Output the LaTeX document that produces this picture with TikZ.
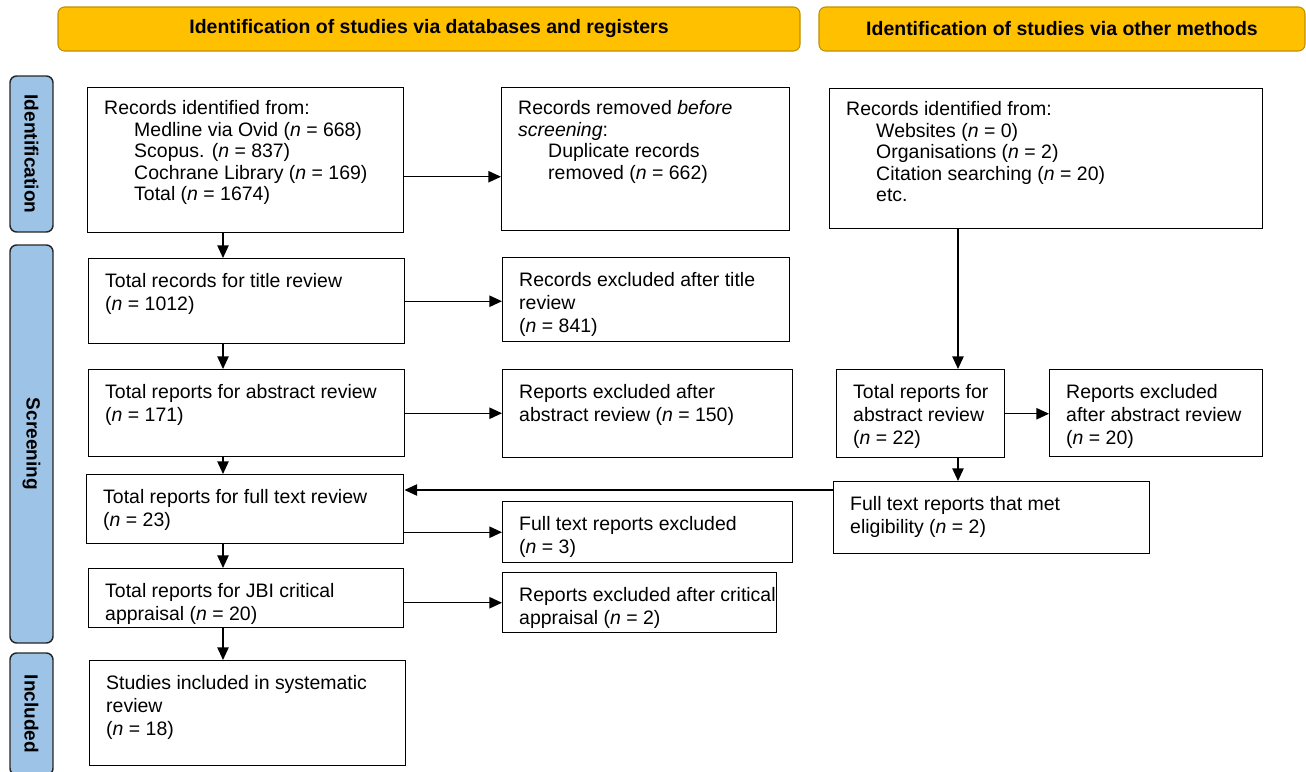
\documentclass[tikz,border=0pt]{standalone}
\usepackage{fontspec}
\setmainfont{Liberation Sans}
\usepackage{xcolor}
\definecolor{prhead}{HTML}{FFC000}
\definecolor{prheadline}{HTML}{BF9000}
\definecolor{prside}{HTML}{9DC3E6}
\usetikzlibrary{arrows.meta,calc}
\newlength\pxu
\setlength\pxu{0.75pt}
\newcommand{\ind}{\hspace*{30\pxu}}
\newcommand{\pbtext}[3]{\parbox[t][#2\pxu][t]{#1\pxu}{\vspace*{12\pxu}\hspace*{16.5\pxu}\begin{tabular}[t]{@{}l@{}}#3\end{tabular}}}

\begin{document}
\begin{tikzpicture}[x=0.75pt,y=-0.75pt,
  pbox/.style={draw,line width=1.1pt,inner sep=0pt,anchor=north west,font=\fontsize{14.6pt}{17.5pt}\selectfont},
  plist/.style={font=\fontsize{14.6pt}{16.1pt}\selectfont},
  header/.style={draw=prheadline,fill=prhead,rounded corners=5pt,line width=0.8pt,minimum height=44\pxu,font=\bfseries\fontsize{14.6pt}{16pt}\selectfont},
  sidebar/.style={draw=black!85,fill=prside,rounded corners=5pt,line width=1.1pt,minimum height=43\pxu,rotate=-90,font=\bfseries\fontsize{14.3pt}{16pt}\selectfont},
  arr/.style={line width=1.1pt,-{Triangle[length=9.5pt,width=8.5pt]}}]
\useasboundingbox (0,0) rectangle (1306,771);

% headers
\node[header,minimum width=742\pxu] (hdDb) at (429,29) {Identification of studies via databases and registers};
\node[header,minimum width=486\pxu] (hdOther) at (1062,29) {Identification of studies via other methods};

% phase bars
\node[sidebar,minimum width=156\pxu] (sideId) at (31.5,154) {Identification};
\node[sidebar,minimum width=398\pxu] (sideScr) at (31.5,444) {Screening};
\node[sidebar,minimum width=122\pxu] (sideInc) at (31.5,714) {Included};

% databases and registers
\node[pbox,plist] (recDb) at (87,87) {\pbtext{316}{145}{Records identified from:\\
  \ind Medline via Ovid (\textit{n} = 668)\\
  \ind Scopus. (\textit{n} = 837)\\
  \ind Cochrane Library (\textit{n} = 169)\\
  \ind Total (\textit{n} = 1674)}};
\node[pbox,plist] (recRemoved) at (501,87) {\pbtext{288}{143}{Records removed \textit{before}\\
  \textit{screening}:\\
  \ind Duplicate records\\
  \ind removed (\textit{n} = 662)}};
\node[pbox] (titleRev) at (88,258) {\pbtext{316}{85}{Total records for title review\\ (\textit{n} = 1012)}};
\node[pbox] (titleExcl) at (502,257) {\pbtext{287}{84}{Records excluded after title\\ review\\ (\textit{n} = 841)}};
\node[pbox] (absRev) at (88,369) {\pbtext{316}{87}{Total reports for abstract review\\ (\textit{n} = 171)}};
\node[pbox] (absExcl) at (502,369) {\pbtext{290}{88}{Reports excluded after\\ abstract review (\textit{n} = 150)}};
\node[pbox] (fullRev) at (86,474) {\pbtext{317}{69}{Total reports for full text review\\ (\textit{n} = 23)}};
\node[pbox] (fullExcl) at (502,501) {\pbtext{290}{61}{Full text reports excluded\\ (\textit{n} = 3)}};
\node[pbox] (jbiRev) at (88,568) {\pbtext{315}{59}{Total reports for JBI critical\\ appraisal (\textit{n} = 20)}};
\node[pbox] (jbiExcl) at (502,572) {\pbtext{274}{60}{Reports excluded after critical\\ appraisal (\textit{n} = 2)}};
\node[pbox] (included) at (89,660) {\pbtext{316}{105}{Studies included in systematic\\ review\\ (\textit{n} = 18)}};

% other methods
\node[pbox,plist] (recOther) at (829,88) {\pbtext{433}{140}{Records identified from:\\
  \ind Websites (\textit{n} = 0)\\
  \ind Organisations (\textit{n} = 2)\\
  \ind Citation searching (\textit{n} = 20)\\
  \ind etc.}};
\node[pbox] (absOther) at (836,369) {\pbtext{168}{88}{Total reports for\\ abstract review\\ (\textit{n} = 22)}};
\node[pbox] (absOtherExcl) at (1049,369) {\pbtext{213}{87}{Reports excluded\\ after abstract review\\ (\textit{n} = 20)}};
\node[pbox] (fullOther) at (833,481) {\pbtext{316}{72}{Full text reports that met\\ eligibility (\textit{n} = 2)}};

% connectors
\coordinate (lx) at (223,0);
\coordinate (rx) at (958,0);
\draw[arr] (recDb.south -| lx) -- (titleRev.north -| lx);
\draw[arr] (titleRev.south -| lx) -- (absRev.north -| lx);
\draw[arr] (absRev.south -| lx) -- (fullRev.north -| lx);
\draw[arr] (fullRev.south -| lx) -- (jbiRev.north -| lx);
\draw[arr] (jbiRev.south -| lx) -- (included.north -| lx);
\draw[arr] ([yshift=-16.5\pxu]recDb.east) -- ([yshift=-16.5\pxu]recDb.east -| recRemoved.west);
\draw[arr] (titleRev.east) -- (titleRev.east -| titleExcl.west);
\draw[arr] (absRev.east) -- (absRev.east -| absExcl.west);
\draw[arr] (fullExcl.west -| fullRev.east) -- (fullExcl.west);
\draw[arr] (jbiExcl.west -| jbiRev.east) -- (jbiExcl.west);
\draw[arr] (recOther.south -| rx) -- (absOther.north -| rx);
\draw[arr] (absOther.east) -- (absOther.east -| absOtherExcl.west);
\draw[arr] (absOther.south -| rx) -- (fullOther.north -| rx);
\draw[arr] ([yshift=-9\pxu]fullOther.north west) -- ([yshift=-9\pxu]fullOther.north west -| fullRev.east);
\end{tikzpicture}
\end{document}
